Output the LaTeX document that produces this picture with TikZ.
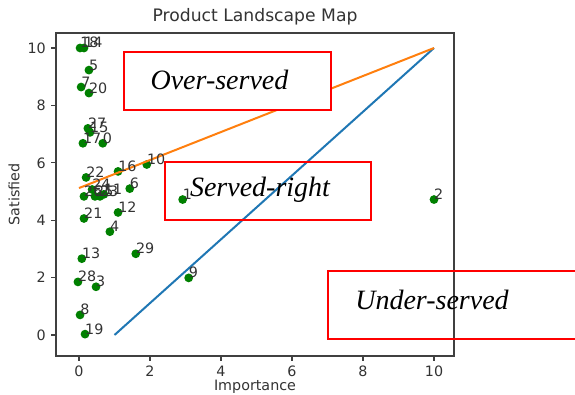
\documentclass[tikz,border=0pt]{standalone}
\usepackage{fontspec}
\setmainfont{DejaVu Sans}
\newfontfamily\regionfont{Liberation Serif}
\definecolor{mplblue}{HTML}{1F77B4}
\definecolor{mplorange}{HTML}{FF7F0E}
\definecolor{mplgreen}{HTML}{008000}
\begin{document}
\begin{tikzpicture}[x=1pt,y=-1pt,
  axtext/.style={font=\fontsize{14.3}{16}\selectfont, text=black!80, inner sep=0pt},
  titletext/.style={font=\fontsize{17.2}{19}\selectfont, text=black!80, inner sep=0pt},
  ptlabel/.style={axtext, anchor=base west},
  ptdot/.style={fill=mplgreen},
  frameline/.style={draw=black!75, line width=1.1pt},
  regionbox/.style={draw=red, line width=2pt},
  regiontext/.style={font=\regionfont\itshape\fontsize{28}{30}\selectfont, text=black, inner sep=0pt}
]
\useasboundingbox (0,0) rectangle (575,395);
\fill[white] (0,0) rectangle (575,395);

% title and axis labels
\node[titletext] (title) at (255,17) {Product Landscape Map};
\node[axtext] (xlabel) at (255,387) {Importance};
\node[axtext, rotate=90] (ylabel) at (14,194.5) {Satisfied};

% x ticks
\foreach \v in {0,2,...,10} {
  \draw[frameline] (79+35.5*\v,356) -- (79+35.5*\v,361);
  \node[axtext, anchor=north] (xt\v) at (79+35.5*\v,366) {\v};
}
% y ticks
\foreach \v in {0,2,...,10} {
  \draw[frameline] (56,335-28.7*\v) -- (51,335-28.7*\v);
  \node[axtext, anchor=east] (yt\v) at (46,335-28.7*\v) {\v};
}

% data area
\begin{scope}[shift={(79pt,-335pt)}, x=35.5pt, y=28.7pt]
  \foreach \lab/\px/\py in {
    0/0.67/6.68, 1/2.92/4.72, 2/10/4.72, 3/0.48/1.68, 4/0.87/3.60,
    5/0.28/9.23, 6/1.43/5.10, 7/0.06/8.64, 8/0.03/0.70, 9/3.09/1.99,
    10/1.91/5.94, 11/0.70/4.90, 12/1.10/4.27, 13/0.08/2.66, 14/0.14/10.0,
    15/0.31/7.06, 16/1.10/5.70, 17/0.11/6.68, 18/0.03/10.0, 19/0.17/0.03,
    20/0.28/8.43, 21/0.14/4.06, 22/0.20/5.49, 23/0.59/4.83, 24/0.37/5.07,
    25/0.45/4.83, 26/0.14/4.83, 27/0.25/7.20, 28/-0.03/1.85, 29/1.60/2.83} {
    \fill[ptdot] (\px,\py) circle (4.4pt);
    \coordinate (c\lab) at (\px,\py);
  }
  % reference lines
  \coordinate (b0) at (1,0);
  \coordinate (b1) at (10,10);
  \coordinate (o0) at (0,5.12);
  \coordinate (o1) at (10,10);
  \draw[mplblue, line width=2pt] (b0) -- (b1);
  \draw[mplorange, line width=2pt] (o0) -- (o1);
  % point labels
  \foreach \lab in {0,1,...,29} {
    \node[ptlabel] (p\lab) at (c\lab) {\lab};
  }
\end{scope}

% axes frame
\draw[frameline] (56,33) rectangle (454,356);

% region annotations
\filldraw[regionbox, fill=white] (124,52) rectangle (331,110);
\node[regiontext] (over) at (219.5,80) {Over-served};
\draw[regionbox] (165,162) rectangle (371,220);
\node[regiontext] (right) at (260,190) {Served-right};
\draw[regionbox] (576,271) -- (328,271) -- (328,339) -- (576,339);
\node[regiontext] (under) at (432,300) {Under-served};
\end{tikzpicture}
\end{document}
